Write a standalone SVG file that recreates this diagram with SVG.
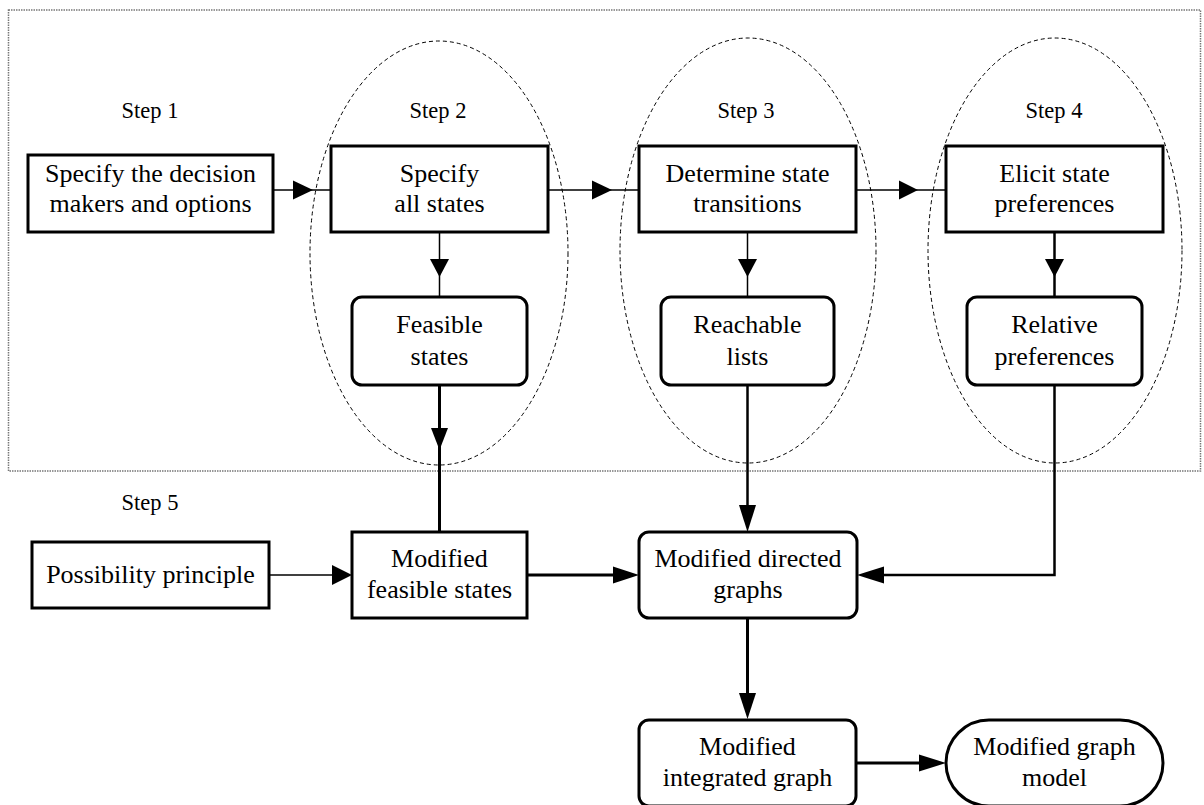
<svg xmlns="http://www.w3.org/2000/svg" width="1204" height="805" viewBox="0 0 1204 805">
<style>
text{font-family:"Liberation Serif","Times New Roman",serif;fill:#000;text-anchor:middle}
.t{font-size:26px}
.s{font-size:22.5px}
.box{fill:#fff;stroke:#000;stroke-width:3}
.ell{fill:none;stroke:#000;stroke-width:1;stroke-dasharray:4 3}
.frame{fill:none;stroke:#777;stroke-width:1.5;stroke-dasharray:1.5 1}
.thin{fill:none;stroke:#000;stroke-width:1.5}
.mid{fill:none;stroke:#000;stroke-width:2.5}
.thick{fill:none;stroke:#000;stroke-width:3}
.head{fill:#000;stroke:none}
</style>
<rect width="1204" height="805" fill="#fff"/>
<g id="frame">
<rect class="frame" x="8.5" y="10" width="1192" height="461"/>
</g>
<g id="phases">
<ellipse class="ell" cx="439" cy="253" rx="129" ry="212"/>
<ellipse class="ell" cx="748" cy="250.5" rx="128" ry="212.5"/>
<ellipse class="ell" cx="1055" cy="250.5" rx="127" ry="212.5"/>
</g>
<g id="labels">
<text class="s" x="150" y="118">Step 1</text>
<text class="s" x="438" y="118">Step 2</text>
<text class="s" x="746" y="118">Step 3</text>
<text class="s" x="1054" y="118">Step 4</text>
<text class="s" x="150" y="510">Step 5</text>
</g>
<g id="connectors">
<line class="thin" x1="273" y1="190" x2="331" y2="190"/>
<polygon class="head" points="313,190 293,180.5 293,199.5"/>
<line class="thin" x1="548" y1="190" x2="639" y2="190"/>
<polygon class="head" points="612,190 592,180.5 592,199.5"/>
<line class="thin" x1="856" y1="190" x2="946" y2="190"/>
<polygon class="head" points="918,190 899,180.5 899,199.5"/>
<line class="thin" x1="439.5" y1="232" x2="439.5" y2="297"/>
<polygon class="head" points="439.5,277 430,259 449,259"/>
<line class="thin" x1="747.5" y1="232" x2="747.5" y2="297"/>
<polygon class="head" points="747.5,277 738,259 757,259"/>
<line class="mid" x1="1054.5" y1="232" x2="1054.5" y2="297"/>
<polygon class="head" points="1054.5,277 1045,259 1064,259"/>
<line class="thick" x1="439.5" y1="385" x2="439.5" y2="532"/>
<polygon class="head" points="439.5,450 431,428 448,428"/>
<line class="mid" x1="747.5" y1="385" x2="747.5" y2="510"/>
<polygon class="head" points="747.5,532 739,505 756,505"/>
<path class="mid" d="M1054.5,385 V575 H880"/>
<polygon class="head" points="857,575 884,566.5 884,583.5"/>
<line class="thin" x1="269" y1="575" x2="334" y2="575"/>
<polygon class="head" points="352,575 332,565 332,585"/>
<line class="thick" x1="527" y1="575" x2="615" y2="575"/>
<polygon class="head" points="639,575 613,566.5 613,583.5"/>
<line class="thick" x1="747.5" y1="618" x2="747.5" y2="695"/>
<polygon class="head" points="747.5,719 739,693 756,693"/>
<line class="thick" x1="856" y1="763" x2="921" y2="763"/>
<polygon class="head" points="946,763 919,754.5 919,771.5"/>
</g>
<g id="n1">
<rect class="box" x="28" y="155" width="245" height="77"/>
<text class="t" x="150.5" y="182">Specify the decision</text>
<text class="t" x="150.5" y="212">makers and options</text>
</g>
<g id="n2">
<rect class="box" x="331" y="146" width="217" height="86"/>
<text class="t" x="439.5" y="182">Specify</text>
<text class="t" x="439.5" y="212">all states</text>
</g>
<g id="n3">
<rect class="box" x="639" y="146" width="217" height="86"/>
<text class="t" x="747.5" y="182">Determine state</text>
<text class="t" x="747.5" y="212">transitions</text>
</g>
<g id="n4">
<rect class="box" x="946" y="146" width="217" height="86"/>
<text class="t" x="1054.5" y="182">Elicit state</text>
<text class="t" x="1054.5" y="212">preferences</text>
</g>
<g id="n5">
<rect class="box" x="352" y="297" width="175" height="88" rx="10"/>
<text class="t" x="439.5" y="333">Feasible</text>
<text class="t" x="439.5" y="365">states</text>
</g>
<g id="n6">
<rect class="box" x="661" y="297" width="173" height="88" rx="10"/>
<text class="t" x="747.5" y="333">Reachable</text>
<text class="t" x="747.5" y="365">lists</text>
</g>
<g id="n7">
<rect class="box" x="967" y="297" width="175" height="88" rx="10"/>
<text class="t" x="1054.5" y="333">Relative</text>
<text class="t" x="1054.5" y="365">preferences</text>
</g>
<g id="n8">
<rect class="box" x="32" y="542" width="237" height="66"/>
<text class="t" x="150.5" y="583">Possibility principle</text>
</g>
<g id="n9">
<rect class="box" x="352" y="532" width="175" height="86"/>
<text class="t" x="439.5" y="567">Modified</text>
<text class="t" x="439.5" y="598">feasible states</text>
</g>
<g id="n10">
<rect class="box" x="639" y="532" width="218" height="86" rx="10"/>
<text class="t" x="748" y="567">Modified directed</text>
<text class="t" x="748" y="598">graphs</text>
</g>
<g id="n11">
<rect class="box" x="639" y="720" width="217" height="86" rx="10"/>
<text class="t" x="747.5" y="755">Modified</text>
<text class="t" x="747.5" y="786">integrated graph</text>
</g>
<g id="n12">
<rect class="box" x="946" y="720" width="217" height="86" rx="43"/>
<text class="t" x="1054.5" y="755">Modified graph</text>
<text class="t" x="1054.5" y="786">model</text>
</g>
</svg>
